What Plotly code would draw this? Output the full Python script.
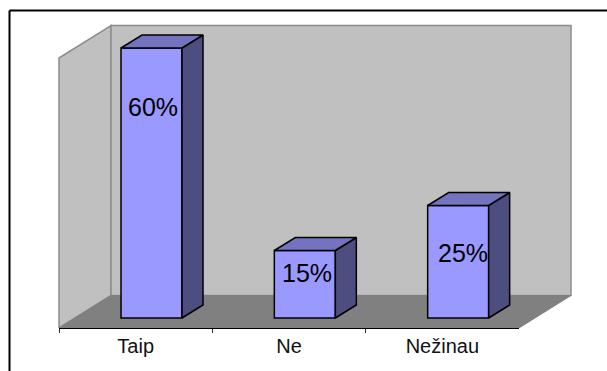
import plotly.graph_objects as go

categories = ["Taip", "Ne", "Nežinau"]
values = [60, 15, 25]
value_labels = ["60%", "15%", "25%"]

W, H = 607, 371
PX_X0, PX_UNIT = 59.0, 153.33     # pixel of x=0, pixels per category
PX_Y0, PX_PCT = 318.0, 4.5        # pixel of 0 %, pixels per percent
FLOOR_PX = 328.0

x_lo = (0 - PX_X0) / PX_UNIT
x_hi = (W - PX_X0) / PX_UNIT
y_lo = (PX_Y0 - FLOOR_PX) / PX_PCT
y_hi = PX_Y0 / PX_PCT

wall_dx, wall_dy = 52 / PX_UNIT, 32.5 / PX_PCT
bar_dx, bar_dy = 21 / PX_UNIT, 13 / PX_PCT
bar_w = 61 / PX_UNIT
bar_left = 62 / PX_UNIT
wall_h = 60.0

FRONT, TOP, SIDE = "#9999FF", "#7373BF", "#4D4D80"
WALL, FLOOR, EDGE = "#C0C0C0", "#808080", "#8C8C8C"

label_drop = [13.0, 5.0, 10.5]
label_shift = [1.5, 2.5, 4.5]


def poly(pts):
    return "M " + " L ".join(f"{x} {y}" for x, y in pts) + " Z"


x_end = float(len(categories))
shapes = [
    dict(type="path", xref="x", yref="y", layer="below", fillcolor=WALL,
         line=dict(color=EDGE, width=1.5),
         path=poly([(0, y_lo), (0, y_lo + wall_h), (wall_dx, y_lo + wall_h + wall_dy), (wall_dx, y_lo + wall_dy)])),
    dict(type="path", xref="x", yref="y", layer="below", fillcolor=WALL,
         line=dict(color=EDGE, width=1.5),
         path=poly([(wall_dx, y_lo + wall_dy), (wall_dx, y_lo + wall_h + wall_dy),
                    (x_end + wall_dx, y_lo + wall_h + wall_dy), (x_end + wall_dx, y_lo + wall_dy)])),
    dict(type="path", xref="x", yref="y", layer="below", fillcolor=FLOOR,
         line=dict(color=FLOOR, width=1),
         path=poly([(0, y_lo), (wall_dx, y_lo + wall_dy), (x_end + wall_dx, y_lo + wall_dy), (x_end, y_lo)])),
    # page frame
    dict(type="line", xref="paper", yref="paper", x0=9.5 / W, x1=1,
         y0=(FLOOR_PX - 10.5) / FLOOR_PX, y1=(FLOOR_PX - 10.5) / FLOOR_PX,
         line=dict(color="black", width=2)),
    dict(type="line", xref="paper", yref="paper", x0=9.5 / W, x1=9.5 / W,
         y0=(FLOOR_PX - 10.5) / FLOOR_PX, y1=(FLOOR_PX - H) / FLOOR_PX,
         line=dict(color="black", width=2)),
]

fig = go.Figure()
lefts = [i + bar_left for i in range(len(values))]
fig.add_trace(go.Bar(
    x=[l + bar_w / 2 for l in lefts], y=values, width=bar_w,
    marker=dict(color=FRONT, line=dict(color="black", width=1.5)),
    hoverinfo="skip", showlegend=False))

for l, v in zip(lefts, values):
    r = l + bar_w
    fig.add_trace(go.Scatter(
        x=[r, r + bar_dx, r + bar_dx, r, r], y=[0, bar_dy, v + bar_dy, v, 0],
        mode="lines", fill="toself", fillcolor=SIDE,
        line=dict(color="black", width=1.5), hoverinfo="skip", showlegend=False))
    fig.add_trace(go.Scatter(
        x=[l, l + bar_dx, r + bar_dx, r, l], y=[v, v + bar_dy, v + bar_dy, v, v],
        mode="lines", fill="toself", fillcolor=TOP,
        line=dict(color="black", width=1.5), hoverinfo="skip", showlegend=False))

# activates the category axis that carries the ticks and labels
fig.add_trace(go.Scatter(x=categories, y=values, xaxis="x2", yaxis="y", mode="markers",
                         marker=dict(opacity=0), hoverinfo="skip", showlegend=False))

annotations = [
    dict(x=l + bar_w / 2, y=v - d, xref="x", yref="y", text=t, showarrow=False,
         xshift=s, font=dict(family="Liberation Sans", size=25, color="black"))
    for l, v, t, d, s in zip(lefts, values, value_labels, label_drop, label_shift)
]

fig.update_layout(
    width=W, height=H, autosize=False,
    margin=dict(l=0, r=0, t=0, b=H - FLOOR_PX, pad=0),
    paper_bgcolor="white", plot_bgcolor="rgba(0,0,0,0)",
    showlegend=False, shapes=shapes, annotations=annotations,
    xaxis=dict(range=[x_lo, x_hi], domain=[0, 1], visible=False, fixedrange=True),
    yaxis=dict(range=[y_lo, y_hi], domain=[0, 1], visible=False, fixedrange=True),
    xaxis2=dict(type="category", categoryorder="array", categoryarray=categories,
                range=[-0.5, len(categories) - 0.5],
                domain=[PX_X0 / W, (PX_X0 + 3 * PX_UNIT) / W], anchor="y", side="bottom",
                tickson="boundaries", ticks="outside", ticklen=4, tickwidth=1, tickcolor="#333333",
                showline=True, linecolor="black", linewidth=1.2, showgrid=False, zeroline=False,
                tickfont=dict(family="Liberation Sans", size=20, color="#111111"), fixedrange=True),
)

fig.write_html("out.html", config=dict(displayModeBar=False),
               post_script="document.body.style.margin='0';document.documentElement.style.overflow='hidden';")
